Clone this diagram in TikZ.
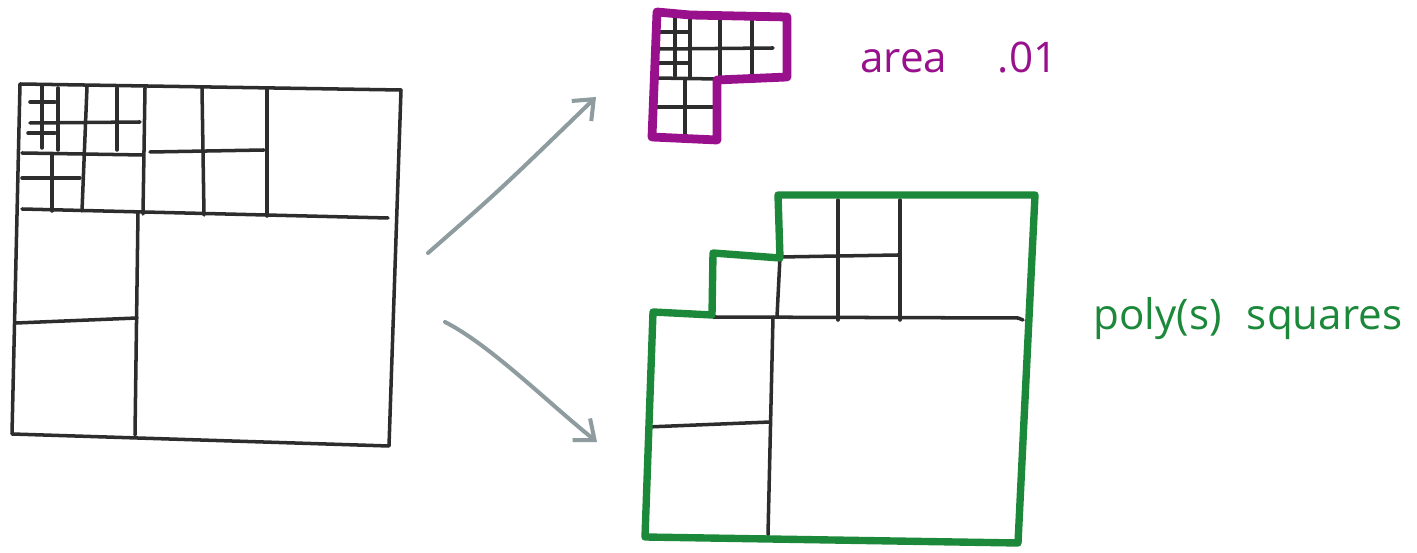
\documentclass[tikz,border=0pt]{standalone}
\usepackage{fontspec}
\setmainfont{Open Sans}
\usepackage{xcolor}
\usepackage{tikz}
\usetikzlibrary{arrows.meta, positioning}
\definecolor{inkblack}{RGB}{45,45,45}
\definecolor{inkpurple}{RGB}{152,16,140}
\definecolor{inkgreen}{RGB}{28,136,58}
\definecolor{inkgray}{RGB}{142,156,160}
\tikzset{
  cell/.style={draw=inkblack, line width=2pt, line cap=round, line join=round},
  purpleedge/.style={draw=inkpurple, line width=5pt, line cap=round, line join=round},
  greenedge/.style={draw=inkgreen, line width=4.2pt, line cap=round, line join=round},
  flow/.style={draw=inkgray, line width=2.3pt, line cap=round,
               -{Straight Barb[length=3.4mm, width=5.6mm, line width=2.3pt]}},
  purplelabel/.style={text=inkpurple, inner sep=0pt, anchor=base west,
                      font=\fontsize{24}{28}\selectfont},
  greenlabel/.style={text=inkgreen, inner sep=0pt, anchor=base west,
                     font=\fontsize{24}{28}\selectfont}
}

\begin{document}
\begin{tikzpicture}[x=0.02cm, y=-0.02cm]
  \useasboundingbox (0,0) rectangle (1417,553);

  % left quadtree
  \draw[cell] (20,84) -- (401,90) -- (389,446) -- (12,434) -- cycle;
  \draw[cell] (22,209) -- (388,218);
  \draw[cell] (138,212) -- (135,435);
  \draw[cell] (16,323) -- (137,318);
  \draw[cell] (145,88) -- (143,214);
  \draw[cell] (202,88) -- (204,215);
  \draw[cell] (267,89) -- (267,216);
  \draw[cell] (150,152) -- (264,150);
  \draw[cell] (22,153) -- (143,155);
  \draw[cell] (87,87) -- (82,211);
  \draw[cell] (30,123) -- (140,122);
  \draw[cell] (117,88) -- (117,150);
  \draw[cell] (58,88) -- (58,150);
  \draw[cell] (42,86) -- (42,148);
  \draw[cell] (30,102) -- (55,102);
  \draw[cell] (28,133) -- (55,133);
  \draw[cell] (52,155) -- (52,211);
  \draw[cell] (22,178) -- (80,178);

  % small region
  \draw[cell] (690,18) -- (690,78);
  \draw[cell] (720,18) -- (720,78);
  \draw[cell] (752,18) -- (752,76);
  \draw[cell] (660,49) -- (773,48);
  \draw[cell] (675,18) -- (675,76);
  \draw[cell] (658,32) -- (690,32);
  \draw[cell] (658,63) -- (690,63);
  \draw[cell] (656,78) -- (717,79);
  \draw[cell] (685,80) -- (685,137);
  \draw[cell] (656,107) -- (715,107);
  \draw[purpleedge] (657,12) -- (690,15) -- (787,17) -- (787,77) -- (717,80)
    -- (717,140) -- (652,137) -- cycle;

  % large region
  \draw[cell] (713,317) -- (1018,318) -- (1023,320);
  \draw[cell] (773,317) -- (768,535);
  \draw[cell] (647,427) -- (770,422);
  \draw[cell] (838,200) -- (838,320);
  \draw[cell] (900,200) -- (900,320);
  \draw[cell] (780,257) -- (898,255);
  \draw[cell] (780,257) -- (777,317);
  \draw[greenedge] (778,195) -- (1035,195) -- (1018,543) -- (645,537) -- (653,312)
    -- (712,315) -- (713,253) -- (780,258) -- cycle;

  % labels
  \node[purplelabel] (arealbl) at (860,73) {area\hspace{1.2em}.01};
  \node[greenlabel] (polylbl) at (1093,330) {poly(s)\hspace{0.6em}squares};

  % arrows
  \coordinate (upstart) at (428,253);
  \coordinate (upend) at (596,97);
  \coordinate (downstart) at (445,322);
  \coordinate (downend) at (597,442);
  \draw[flow] (upstart) .. controls (500,190) .. (upend);
  \draw[flow] (downstart) .. controls (490,345) and (545,400) .. (downend);
\end{tikzpicture}
\end{document}
